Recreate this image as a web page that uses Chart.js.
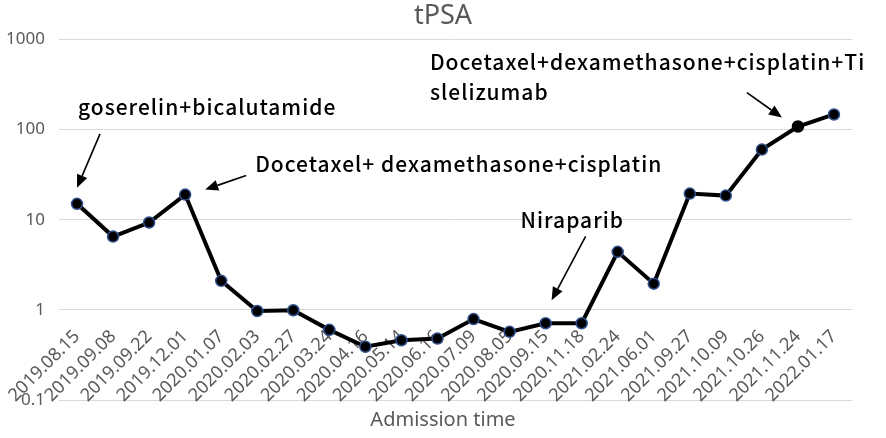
<!DOCTYPE html>
<html>
<head>
<meta charset="utf-8">
<style>
  html, body { margin: 0; padding: 0; background: #fff; }
  #wrap { width: 886px; height: 438px; }
</style>
</head>
<body>
<div id="wrap"><canvas id="psaChart"></canvas></div>
<script src="https://cdn.jsdelivr.net/npm/chart.js@4.4.1/dist/chart.umd.min.js"></script>
<script>
// admission dates (x categories)
const dates = [
  "2019.08.15", "2019.09.08", "2019.09.22", "2019.12.01", "2020.01.07",
  "2020.02.03", "2020.02.27", "2020.03.24", "2020.04.16", "2020.05.14",
  "2020.06.16", "2020.07.09", "2020.08.05", "2020.09.15", "2020.11.18",
  "2021.02.24", "2021.06.01", "2021.09.27", "2021.10.09", "2021.10.26",
  "2021.11.24", "2022.01.17"
];
// tPSA values, ng/ml
const tpsa = [
  15, 6.5, 9.3, 19, 2.1,
  0.97, 0.99, 0.6, 0.39, 0.46,
  0.48, 0.79, 0.57, 0.71, 0.71,
  4.4, 1.95, 19.5, 18.5, 60,
  108, 147
];
const yTicks = [0.1, 1, 10, 100, 1000];

// treatment notes, each tied to a data point
const notes = [
  { index: 0, lines: ["goserelin+bicalutamide"], tx: 1, ty: -97, from: [23, -70], to: [0, -16] },
  { index: 3, lines: ["Docetaxel+ dexamethasone+cisplatin"], tx: 70, ty: -31, from: [61, -19], to: [20, -5] },
  { index: 13, lines: ["Niraparib"], tx: -25, ty: -103, from: [40, -87], to: [6, -23] },
  { index: 20, lines: ["Docetaxel+dexamethasone+cisplatin+Ti", "slelizumab"], tx: -368, ty: -65, from: [-51, -34], to: [-16, -9] }
];

const noteFont = "500 21px 'Noto Sans CJK SC', 'Noto Sans', sans-serif";

function drawArrow(ctx, x1, y1, x2, y2) {
  const ang = Math.atan2(y2 - y1, x2 - x1);
  const hl = 13, hw = 5.5;
  const bx = x2 - hl * Math.cos(ang), by = y2 - hl * Math.sin(ang);
  ctx.beginPath();
  ctx.moveTo(x1, y1);
  ctx.lineTo(bx, by);
  ctx.stroke();
  ctx.beginPath();
  ctx.moveTo(x2, y2);
  ctx.lineTo(bx + hw * Math.sin(ang), by - hw * Math.cos(ang));
  ctx.lineTo(bx - hw * Math.sin(ang), by + hw * Math.cos(ang));
  ctx.closePath();
  ctx.fill();
}

const notesPlugin = {
  id: 'notes',
  afterDatasetsDraw(chart) {
    const ctx = chart.ctx;
    const x = chart.scales.x, y = chart.scales.y;
    ctx.save();
    ctx.fillStyle = '#000';
    ctx.strokeStyle = '#000';
    ctx.lineWidth = 1.6;
    ctx.font = noteFont;
    ctx.letterSpacing = '1px';
    ctx.textAlign = 'left';
    ctx.textBaseline = 'middle';
    notes.forEach(n => {
      const px = x.getPixelForValue(n.index);
      const py = y.getPixelForValue(tpsa[n.index]);
      n.lines.forEach((t, i) => ctx.fillText(t, px + n.tx, py + n.ty + i * 30));
      drawArrow(ctx, px + n.from[0], py + n.from[1], px + n.to[0], py + n.to[1]);
    });
    ctx.restore();
  }
};

new Chart(document.getElementById('psaChart'), {
  type: 'line',
  data: {
    labels: dates,
    datasets: [{
      data: tpsa,
      borderColor: '#000',
      borderWidth: 4,
      tension: 0,
      pointRadius: 5.5,
      pointBackgroundColor: '#000',
      pointBorderColor: ctx => ctx.dataIndex === 20 ? '#000' : '#2f4f8f',
      pointBorderWidth: 1.5
    }]
  },
  options: {
    responsive: true,
    maintainAspectRatio: false,
    animation: false,
    layout: { padding: { left: 0, right: 0, top: 0, bottom: 0 } },
    plugins: {
      legend: { display: false },
      tooltip: { enabled: false },
      title: {
        display: true,
        text: 'tPSA',
        color: '#595959',
        font: { family: "'Noto Sans', sans-serif", size: 27, weight: 'normal' },
        padding: { top: 0, bottom: 7 }
      },
      subtitle: {
        display: true,
        position: 'bottom',
        text: 'Admission time',
        color: '#595959',
        font: { family: "'Noto Sans', sans-serif", size: 20, weight: 'normal' },
        padding: { top: 8, bottom: 6 }
      }
    },
    scales: {
      x: {
        type: 'category',
        position: { y: 1 },
        offset: true,
        grid: { display: false, drawTicks: false },
        border: { display: false },
        afterFit: s => { s.paddingLeft = 0; s.paddingRight = 0; },
        ticks: {
          autoSkip: false,
          minRotation: 45,
          maxRotation: 45,
          padding: 16,
          color: '#595959',
          font: { family: "'Noto Sans', sans-serif", size: 18 }
        }
      },
      y: {
        type: 'logarithmic',
        min: 0.1,
        max: 1000,
        afterBuildTicks: s => { s.ticks = yTicks.map(v => ({ value: v })); },
        afterFit: s => { s.width = 59; },
        grid: { color: '#d9d9d9', lineWidth: 1, drawTicks: false },
        border: { display: false },
        ticks: {
          padding: 14,
          color: '#595959',
          font: { family: "'Noto Sans', sans-serif", size: 17 },
          callback: v => String(v)
        }
      },
      // empty right-hand axis, only to leave the right margin of the plot
      yRight: {
        type: 'linear',
        position: 'right',
        display: true,
        grid: { display: false, drawTicks: false },
        border: { display: false },
        ticks: { display: false },
        afterFit: s => { s.width = 34; }
      }
    }
  },
  plugins: [notesPlugin]
});
</script>
</body>
</html>
